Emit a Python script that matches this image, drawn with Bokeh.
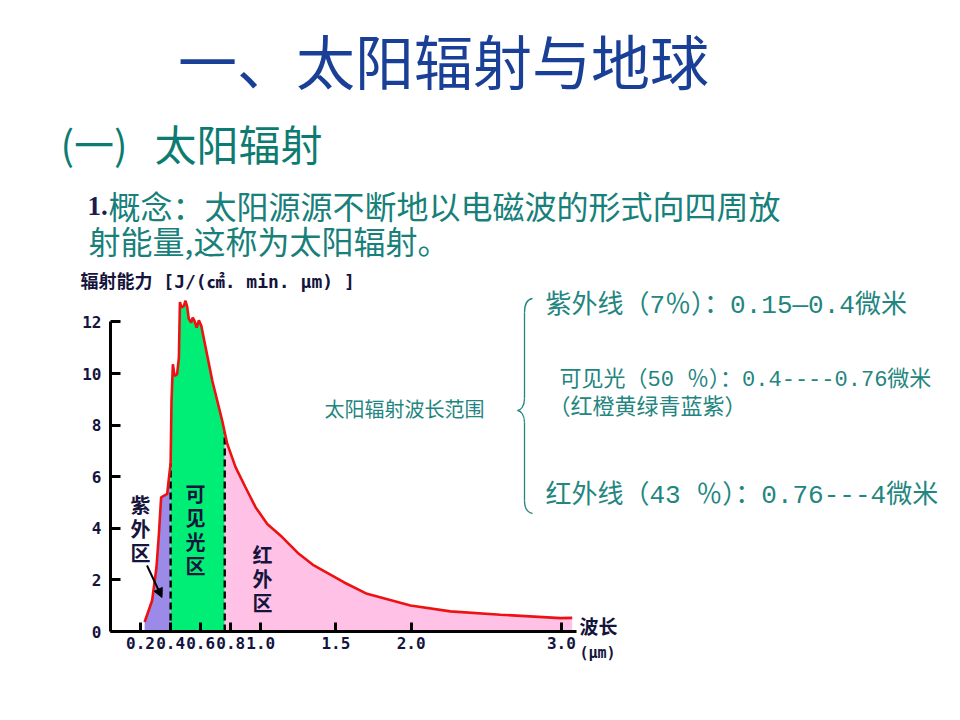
import numpy as np
from bokeh.plotting import figure
from bokeh.models import Label, Arrow, NormalHead, FixedTicker
from bokeh.embed import file_html
from bokeh.resources import INLINE

# ---- data ----
wavelength = [0.227, 0.277, 0.306, 0.322, 0.337, 0.377, 0.388, 0.40, 0.406, 0.415,
              0.426, 0.443, 0.455, 0.462, 0.473, 0.488, 0.499, 0.51, 0.521, 0.537,
              0.547, 0.559, 0.573, 0.588, 0.604, 0.677, 0.743, 0.76, 0.776, 0.832,
              0.898, 0.965, 1.043, 1.142, 1.253, 1.353, 1.552, 1.707, 1.996, 2.262,
              2.595, 2.994, 3.072]
energy = [0.37, 1.20, 2.49, 3.78, 5.20, 5.33, 5.91, 6.52, 8.94, 10.36,
          9.91, 9.97, 10.61, 12.77, 12.56, 12.62, 12.82, 12.59, 12.12, 11.97,
          12.17, 12.04, 11.78, 12.06, 11.85, 9.73, 8.18, 7.72, 7.29, 6.37,
          5.59, 4.82, 4.17, 3.66, 3.01, 2.56, 1.91, 1.46, 1.01, 0.78,
          0.65, 0.52, 0.53]
uv_end = 0.40
vis_end = 0.76
x_ticks = [0.2, 0.4, 0.6, 0.8, 1.0, 1.5, 2.0, 3.0]
x_tick_labels = ["0.2", "0.4", "0.6", "0.8", "1.0", "1.5", "2.0", "3.0"]
y_ticks = [0, 2, 4, 6, 8, 10, 12]

xs = np.array(wavelength)
ys = np.array(energy)

# ---- canvas geometry ----
W, H = 944, 704
BL, BB = 45, 30              # borders reserved by the axes
X0, KX = 110.0, 150.29       # canvas x of wavelength 0, px per unit
Y0, KY = 631.0, 25.8         # canvas y of energy 0, px per unit

def dx(xp):
    return (xp - X0) / KX
def dy(yp):
    return (Y0 - yp) / KY

p = figure(width=W, height=H,
           x_range=(dx(BL), dx(W)), y_range=(dy(H - BB), dy(0)),
           output_backend="svg", toolbar_location=None,
           min_border_left=BL, min_border_right=0,
           min_border_top=0, min_border_bottom=BB)
p.grid.visible = False
p.outline_line_color = None
p.background_fill_color = "white"
p.border_fill_color = "white"

AXC = "#000000"
LBLC = "#141440"
for ax in (p.xaxis[0], p.yaxis[0]):
    ax.fixed_location = 0
    ax.axis_line_width = 3
    ax.axis_line_color = AXC
    ax.major_tick_line_width = 3
    ax.major_tick_line_color = AXC
    ax.major_tick_out = 0
    ax.minor_tick_line_color = None
    ax.major_label_text_font = "DejaVu Sans Mono"
    ax.major_label_text_font_style = "bold"
    ax.major_label_text_font_size = "16px"
    ax.major_label_text_color = LBLC

p.xaxis.ticker = FixedTicker(ticks=x_ticks)
p.xaxis.major_label_overrides = {t: l for t, l in zip(x_ticks, x_tick_labels)}
p.xaxis.bounds = (0, 3.1)
p.xaxis.major_tick_in = 9
p.xaxis.major_label_standoff = 5

p.yaxis.ticker = FixedTicker(ticks=y_ticks)
p.yaxis.bounds = (0, 12)
p.yaxis.major_tick_in = 10
p.yaxis.major_label_standoff = 9

# ---- fills ----
m_uv = xs <= uv_end
m_vis = (xs >= uv_end) & (xs <= vis_end)
m_ir = xs >= vis_end
p.varea(x=xs[m_uv], y1=0, y2=ys[m_uv], fill_color="#9b8ae8", level="underlay")
p.varea(x=xs[m_vis], y1=0, y2=ys[m_vis], fill_color="#00ee76", level="underlay")
p.varea(x=xs[m_ir], y1=0, y2=ys[m_ir], fill_color="#ffc2e6", level="underlay")

# boundaries (dashed)
p.segment(x0=[uv_end, vis_end], y0=[0, 0], x1=[uv_end, vis_end],
          y1=[ys[xs == uv_end][0], ys[xs == vis_end][0]],
          line_color="black", line_width=2.4, line_dash="7 4")

# curve
p.line(xs, ys, line_color="#ee1111", line_width=2.6)

# ---- region labels ----
CJK = "Noto Sans CJK SC"
def vlabel(txt, xc, ytop):
    p.add_layout(Label(x=dx(xc), y=dy(ytop), text=txt, text_font=CJK,
                       text_font_size="20px", text_font_style="bold",
                       text_color="#14143c", text_align="center",
                       text_baseline="top", text_line_height=0.83))
vlabel("紫\n外\n区", 140, 489)
vlabel("可\n见\n光\n区", 195, 478)
vlabel("红\n外\n区", 262, 539)

p.add_layout(Arrow(end=NormalHead(size=9, fill_color="black", line_color="black"),
                   x_start=dx(146.5), y_start=dy(565), x_end=dx(161.5), y_end=dy(597),
                   line_color="black", line_width=2))

# ---- axis titles ----
MONO_B = "'DejaVu Sans Mono', 'Noto Sans CJK SC'"
p.add_layout(Label(x=dx(80), y=dy(281), text="辐射能力 [J/(㎠. min.  μm) ]",
                   text_font=MONO_B, text_font_size="18px", text_font_style="bold",
                   text_color="#14143c", text_baseline="middle"))
p.add_layout(Label(x=dx(579), y=dy(625), text="波长", text_font=CJK,
                   text_font_size="19px", text_font_style="bold",
                   text_color="#14143c", text_baseline="middle"))
p.add_layout(Label(x=dx(579), y=dy(652), text="(μm)", text_font=MONO_B,
                   text_font_size="15px", text_font_style="bold",
                   text_color="#14143c", text_baseline="middle"))

# ---- slide texts ----
p.add_layout(Label(x=dx(443), y=dy(59), text="一、太阳辐射与地球", text_font=CJK,
                   text_font_size="59px", text_color="#1a3f96",
                   text_align="center", text_baseline="middle"))
p.add_layout(Label(x=dx(60), y=dy(142), text="(一)", text_font=CJK,
                   text_font_size="40px", text_color="#0e7b72",
                   text_baseline="middle"))
p.add_layout(Label(x=dx(154), y=dy(142), text="太阳辐射", text_font=CJK,
                   text_font_size="42px", text_color="#0e7b72",
                   text_baseline="middle"))
p.add_layout(Label(x=dx(87), y=dy(205), text="1.", text_font="Liberation Serif",
                   text_font_size="27px", text_font_style="bold",
                   text_color="#1b1b4c", text_baseline="middle"))
p.add_layout(Label(x=dx(108), y=dy(204), text="概念：太阳源源不断地以电磁波的形式向四周放",
                   text_font=CJK, text_font_size="32px", text_color="#17807a",
                   text_baseline="middle"))
p.add_layout(Label(x=dx(88), y=dy(239), text="射能量,这称为太阳辐射。",
                   text_font=CJK, text_font_size="32px", text_color="#17807a",
                   text_baseline="middle"))

TEAL = "#238580"
MONO = "'Liberation Mono', 'Noto Sans CJK SC'"
p.add_layout(Label(x=dx(324), y=dy(408), text="太阳辐射波长范围", text_font=CJK,
                   text_font_size="20px", text_color=TEAL, text_baseline="middle"))
p.add_layout(Label(x=dx(545), y=dy(305), text="紫外线（7％）：0.15—0.4微米",
                   text_font=MONO, text_font_size="26px", text_color=TEAL,
                   text_baseline="middle"))
p.add_layout(Label(x=dx(559), y=dy(380), text="可见光（50 ％）：0.4----0.76微米",
                   text_font=MONO, text_font_size="22px", text_color=TEAL,
                   text_baseline="middle"))
p.add_layout(Label(x=dx(548), y=dy(408), text="（红橙黄绿青蓝紫）",
                   text_font=MONO, text_font_size="22px", text_color=TEAL,
                   text_baseline="middle"))
p.add_layout(Label(x=dx(545), y=dy(495), text="红外线（43 ％）：0.76---4微米",
                   text_font=MONO, text_font_size="26px", text_color=TEAL,
                   text_baseline="middle"))

# curly brace
bx = 524.0
seg = [  # (x0,y0, cx0,cy0, cx1,cy1, x1,y1) in canvas px
    (532, 298, 526, 299, 524, 304, bx, 312),
    (bx, 312, bx, 340, bx, 370, bx, 398),
    (bx, 398, bx, 406, 520, 410, 517, 410),
    (517, 410, 520, 410, bx, 414, bx, 422),
    (bx, 422, bx, 450, bx, 475, bx, 500),
    (bx, 500, bx, 508, 527, 512, 532, 513),
]
p.bezier(x0=[dx(s[0]) for s in seg], y0=[dy(s[1]) for s in seg],
         cx0=[dx(s[2]) for s in seg], cy0=[dy(s[3]) for s in seg],
         cx1=[dx(s[4]) for s in seg], cy1=[dy(s[5]) for s in seg],
         x1=[dx(s[6]) for s in seg], y1=[dy(s[7]) for s in seg],
         line_color=TEAL, line_width=1.3)

open("out.html", "w").write(file_html(p, INLINE))
